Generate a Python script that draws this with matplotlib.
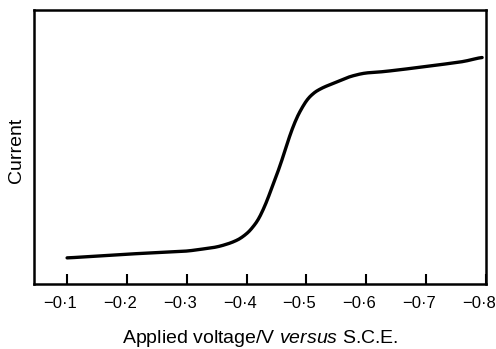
import matplotlib
matplotlib.use("Agg")
import matplotlib.pyplot as plt
import matplotlib.transforms as mtransforms
import numpy as np

plt.rcParams['font.family'] = ['Liberation Sans', 'DejaVu Sans']
plt.rcParams['mathtext.fontset'] = 'custom'
plt.rcParams['mathtext.it'] = 'Liberation Sans:italic'
plt.rcParams['mathtext.rm'] = 'Liberation Sans'

# polarographic wave (current in arbitrary units)
voltage = [-0.1000, -0.2005, -0.3010, -0.3513, -0.3781, -0.3953, -0.4121,
           -0.4261, -0.4345, -0.4429, -0.4513, -0.4596, -0.4680, -0.4764,
           -0.4848, -0.4958, -0.5070, -0.5238, -0.5518, -0.5690, -0.5958,
           -0.6243, -0.6528, -0.7080, -0.7633, -0.7935]
current = [0.095, 0.109, 0.120, 0.135, 0.153, 0.173, 0.209,
           0.258, 0.307, 0.355, 0.404, 0.453, 0.514, 0.574,
           0.611, 0.659, 0.690, 0.714, 0.738, 0.755, 0.770,
           0.774, 0.781, 0.796, 0.812, 0.828]

tick_vals = [-0.1, -0.2, -0.3, -0.4, -0.5, -0.6, -0.7, -0.8]
tick_labels = ["\u22120\u00b71", "\u22120\u00b72", "\u22120\u00b73", "\u22120\u00b74",
               "\u22120\u00b75", "\u22120\u00b76", "\u22120\u00b77", "\u22120\u00b78"]

fig = plt.figure(figsize=(4.96, 3.49), dpi=100)
ax = fig.add_axes([34/496, 1 - 284/349, (486-34)/496, (284-10)/349])

# smoothing through the read points so the pen trace looks continuous
v_fine = np.linspace(voltage[0], voltage[-1], 600)
c_fine = np.interp(-v_fine, -np.array(voltage), current)
kernel = np.ones(19) / 19
c_smooth = np.convolve(np.pad(c_fine, 9, mode='edge'), kernel, mode='valid')
ax.plot(v_fine, c_smooth, color='black', lw=2.4, solid_capstyle='round')

ax.set_xlim(-0.0447, -0.8)
ax.set_ylim(0, 1)
ax.set_xticks(tick_vals)
ax.set_xticklabels(tick_labels, fontsize=12)
ax.set_yticks([])
ax.tick_params(axis='x', direction='in', length=7, width=1.5, pad=9)
# labels in the original sit a little left of their ticks
shift = mtransforms.ScaledTranslation(-7/100, 0, fig.dpi_scale_trans)
for lab in ax.get_xticklabels():
    lab.set_transform(lab.get_transform() + shift)
for s in ax.spines.values():
    s.set_linewidth(1.8)

fig.text(260/496, 1 - 343/349, "Applied voltage/V $\\it{versus}$ S.C.E.",
         ha='center', va='baseline', fontsize=14)
fig.text(17/496, 1 - 150/349, "Current", rotation=90,
         ha='center', va='center', fontsize=14)

fig.savefig("out.png", dpi=100)
